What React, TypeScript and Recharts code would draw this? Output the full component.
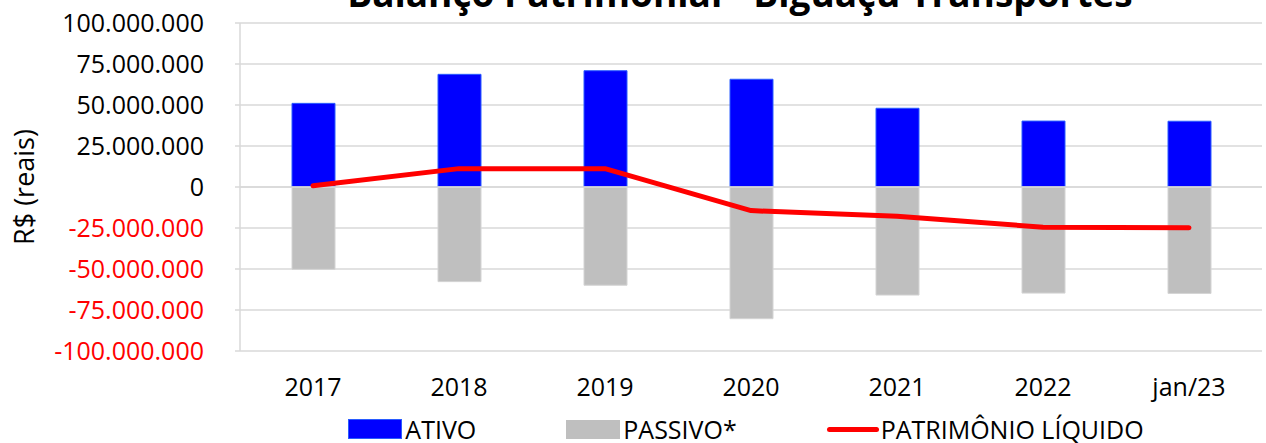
import React from 'react';
import {
  ComposedChart,
  Bar,
  Line,
  XAxis,
  YAxis,
  CartesianGrid,
  ReferenceLine,
  Legend,
} from 'recharts';

const categories = ['2017', '2018', '2019', '2020', '2021', '2022', 'jan/23'];
const ativo = [51000000, 68700000, 70900000, 65700000, 48000000, 40200000, 40100000];
const passivo = [-50200000, -57700000, -59900000, -80300000, -65900000, -64700000, -64900000];
const patrimonio = [800000, 11200000, 11200000, -14400000, -17900000, -24500000, -24800000];
const yTicks = [100000000, 75000000, 50000000, 25000000, 0, -25000000, -50000000, -75000000, -100000000];

const data = categories.map((c, i) => ({
  ano: c,
  ativo: ativo[i],
  passivo: passivo[i],
  pl: patrimonio[i],
}));

const FONT = '"Open Sans", sans-serif';
const GRID = '#d9d9d9';

// 100000000 -> "100.000.000"
function fmt(v: number) {
  const s = Math.abs(v).toString().replace(/\B(?=(\d{3})+(?!\d))/g, '.');
  return v < 0 ? '-' + s : s;
}

function YTick({ x, y, payload }: any) {
  const v = payload.value;
  return (
    <text x={x} y={y} dy="0.36em" textAnchor="end" fontFamily={FONT} fontSize={25} fill={v < 0 ? '#ff0000' : '#000'}>
      {fmt(v)}
    </text>
  );
}

function YLabel({ viewBox }: any) {
  const cx = viewBox.x + 23;
  const cy = viewBox.y + viewBox.height / 2;
  return (
    <text
      x={cx}
      y={cy}
      transform={`rotate(-90 ${cx} ${cy})`}
      textAnchor="middle"
      dominantBaseline="central"
      fontFamily={FONT}
      fontSize={27}
      fill="#000"
    >
      R$ (reais)
    </text>
  );
}

function LegendBox() {
  const item = { display: 'flex', alignItems: 'center' } as const;
  return (
    <div
      style={{
        display: 'flex',
        justifyContent: 'center',
        alignItems: 'center',
        gap: 90,
        paddingLeft: 230,
        height: 28,
        lineHeight: '28px',
        fontFamily: FONT,
        fontSize: 25,
        color: '#000',
      }}
    >
      <div style={item}>
        <span style={{ display: 'inline-block', width: 52, height: 18, background: '#0000ff', border: '1px solid #2a5cff', marginRight: 3 }} />
        ATIVO
      </div>
      <div style={item}>
        <span style={{ display: 'inline-block', width: 54, height: 19, background: '#bfbfbf', marginRight: 3 }} />
        PASSIVO*
      </div>
      <div style={item}>
        <span style={{ display: 'inline-block', width: 52, height: 5, background: '#ff0000', borderRadius: 3, marginRight: 2 }} />
        PATRIMÔNIO LÍQUIDO
      </div>
    </div>
  );
}

export default function App() {
  return (
    <div style={{ position: 'absolute', top: 0, left: 0, width: 1266, height: 443, overflow: 'hidden', background: '#fff' }}>
      <svg width={1266} height={30} style={{ position: 'absolute', top: 0, left: 0 }}>
        <text x={740} y={7} textAnchor="middle" fontFamily={FONT} fontWeight="bold" fontSize={37} fill="#000">
          Balanço Patrimonial - Biguaçu Transportes
        </text>
      </svg>
      <ComposedChart
        width={1266}
        height={443}
        data={data}
        stackOffset="sign"
        margin={{ top: 23, right: 4, left: 0, bottom: 0 }}
      >
        <CartesianGrid vertical={false} stroke={GRID} strokeWidth={1.5} />
        <XAxis
          dataKey="ano"
          axisLine={false}
          tickLine={false}
          tickSize={0}
          tickMargin={27}
          height={64}
          interval={0}
          tick={{ fontFamily: FONT, fontSize: 25, fill: '#000' }}
        />
        <YAxis
          width={240}
          domain={[-100000000, 100000000]}
          ticks={yTicks}
          interval={0}
          axisLine={{ stroke: GRID, strokeWidth: 1.5 }}
          tickLine={{ stroke: GRID, strokeWidth: 1.5 }}
          tickSize={5}
          tickMargin={31}
          tick={<YTick />}
          label={<YLabel />}
        />
        <ReferenceLine y={0} stroke={GRID} strokeWidth={1.5} />
        <Legend verticalAlign="bottom" content={<LegendBox />} />
        <Bar dataKey="ativo" stackId="a" barSize={43} fill="#0000ff" stroke="#2a5cff" strokeWidth={1} isAnimationActive={false} />
        <Bar dataKey="passivo" stackId="a" barSize={43} fill="#bfbfbf" stroke="#d4d4d4" strokeWidth={1} isAnimationActive={false} />
        <Line
          dataKey="pl"
          type="linear"
          stroke="#ff0000"
          strokeWidth={5}
          strokeLinecap="round"
          strokeLinejoin="round"
          dot={false}
          activeDot={false}
          isAnimationActive={false}
        />
      </ComposedChart>
    </div>
  );
}
